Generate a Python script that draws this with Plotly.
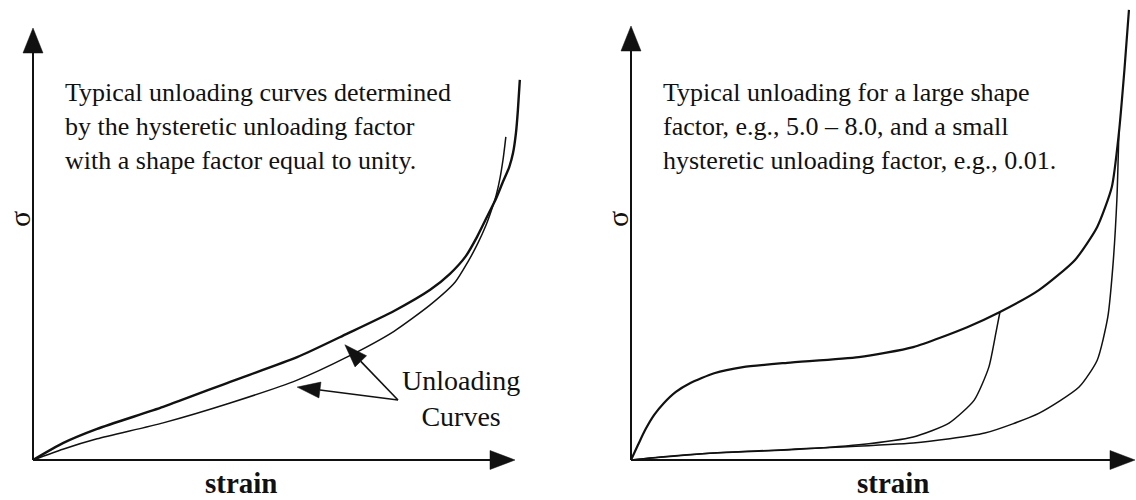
import numpy as np
import plotly.graph_objects as go

# ---------------- data (normalized strain / stress units) ----------------
# Left panel: shape factor = 1
left_load_strain = [0, 0.62, 1.33, 2.70, 4.09, 5.48, 6.51, 7.49, 8.24, 8.65, 8.98, 9.21, 9.42, 9.61,
                    9.75, 9.88, 9.96, 10.02, 10.06, 10.10]
left_load_sigma = [0, 0.39, 0.72, 1.23, 1.81, 2.38, 2.92, 3.45, 3.94, 4.31, 4.72, 5.16, 5.63, 6.06,
                   6.44, 6.78, 7.11, 7.57, 8.10, 8.80]
left_unload_strain = [0, 0.62, 1.33, 2.70, 4.09, 5.48, 6.51, 7.49, 8.24, 8.76, 9.02, 9.23, 9.40, 9.52,
                      9.61, 9.69, 9.75, 9.79, 9.81]
left_unload_sigma = [0, 0.25, 0.49, 0.86, 1.32, 1.85, 2.38, 2.98, 3.59, 4.12, 4.58, 5.02, 5.44, 5.81,
                     6.13, 6.53, 6.94, 7.29, 7.48]

# Right panel: large shape factor, small hysteretic unloading factor
right_load_strain = [0, 0.14, 0.28, 0.46, 0.65, 0.89, 1.17, 1.65, 2.22, 3.10, 4.52, 5.60, 6.67, 7.32,
                     8.10, 8.81, 9.25, 9.54, 9.68, 9.79, 9.88]
right_load_sigma = [0, 0.35, 0.69, 1.04, 1.31, 1.57, 1.77, 2.00, 2.14, 2.24, 2.37, 2.60, 3.06, 3.41,
                    3.92, 4.61, 5.37, 6.29, 7.53, 8.99, 10.37]
right_unload1_strain = [0, 0.58, 1.65, 3.10, 4.52, 5.60, 6.31, 6.81, 7.10, 7.24, 7.32]
right_unload1_sigma = [0, 0.07, 0.16, 0.23, 0.35, 0.53, 0.85, 1.38, 2.14, 2.93, 3.41]
right_unload2_strain = [0, 1.65, 3.81, 5.60, 7.02, 8.10, 8.89, 9.25, 9.46, 9.56, 9.64, 9.68]
right_unload2_sigma = [0, 0.16, 0.28, 0.39, 0.62, 1.08, 1.68, 2.30, 3.29, 4.45, 5.99, 7.53]

left_text = "Typical unloading curves determined<br>by the hysteretic unloading factor<br>with a shape factor equal to unity."
right_text = "Typical unloading for a large shape<br>factor, e.g., 5.0 \u2013 8.0, and a small<br>hysteretic unloading factor, e.g., 0.01."
pointer_label = "Unloading<br>Curves"
x_label = "strain"
y_label = "\u03c3"

# ---------------- layout geometry ----------------
W, H = 1136, 500
AXIS_END = 10.0
SERIF = "Liberation Serif, Times New Roman, serif"
INK = "#111111"

PANELS = {
    "left": dict(ox=33, oy=460, sx=48.2, sy=43.2, xa="x", ya="y", dom=[0.0, 0.5]),
    "right": dict(ox=631, oy=460, sx=50.4, sy=43.4, xa="x2", ya="y2", dom=[0.5, 1.0]),
}


def to_px(p, x, y):
    return p["ox"] + x * p["sx"], p["oy"] - y * p["sy"]


def paper(px, py):
    return px / W, 1 - py / H


def triangle(tip, back, half_w):
    """Filled triangle path (paper coords) from pixel tip / base-centre."""
    tx, ty = tip
    bx, by = back
    dx, dy = tx - bx, ty - by
    n = np.hypot(dx, dy)
    nx, ny = -dy / n, dx / n
    pts = [(tx, ty), (bx + nx * half_w, by + ny * half_w), (bx - nx * half_w, by - ny * half_w)]
    s = ""
    for i, (px, py) in enumerate(pts):
        X, Y = paper(px, py)
        s += ("M" if i == 0 else "L") + f"{X:.5f},{Y:.5f} "
    return dict(type="path", path=s + "Z", xref="paper", yref="paper",
                fillcolor=INK, line=dict(color=INK, width=0.5), layer="above")


def seg(a, b, width):
    X0, Y0 = paper(*a)
    X1, Y1 = paper(*b)
    return dict(type="line", x0=X0, y0=Y0, x1=X1, y1=Y1, xref="paper", yref="paper",
                line=dict(color=INK, width=width), layer="above")


fig = go.Figure()


def add_curve(p, xs, ys, width):
    fig.add_trace(go.Scatter(x=xs, y=ys, mode="lines", xaxis=p["xa"], yaxis=p["ya"],
                             line=dict(color=INK, width=width, shape="spline", smoothing=0.6),
                             hoverinfo="skip", showlegend=False))


L, R = PANELS["left"], PANELS["right"]
add_curve(L, left_load_strain, left_load_sigma, 2.4)
add_curve(L, left_unload_strain, left_unload_sigma, 1.5)
add_curve(R, right_load_strain, right_load_sigma, 2.2)
add_curve(R, right_unload1_strain, right_unload1_sigma, 1.5)
add_curve(R, right_unload2_strain, right_unload2_sigma, 1.5)

shapes = []
annotations = []
HEAD_LEN, HEAD_HALF = 25, 10
for name, p in PANELS.items():
    o = to_px(p, 0, 0)
    xt = to_px(p, AXIS_END, 0)
    yt = to_px(p, 0, AXIS_END)
    shapes.append(seg(o, (xt[0] - HEAD_LEN + 2, xt[1]), 2))
    shapes.append(seg(o, (yt[0], yt[1] + HEAD_LEN - 2), 2))
    shapes.append(triangle(xt, (xt[0] - HEAD_LEN, xt[1]), HEAD_HALF - 0.5))
    shapes.append(triangle(yt, (yt[0], yt[1] + HEAD_LEN), HEAD_HALF))
    # axis labels
    sx, sy = paper(o[0] + 208 if name == "left" else o[0] + 262, 483)
    annotations.append(dict(text=f"<b>{x_label}</b>", x=sx, y=sy, xref="paper", yref="paper",
                            xanchor="center", yanchor="middle", showarrow=False,
                            font=dict(family=SERIF, size=29, color=INK)))
    gx, gy = paper(o[0] - 13, 219)
    annotations.append(dict(text=y_label, x=gx, y=gy, xref="paper", yref="paper",
                            xanchor="center", yanchor="middle", showarrow=False, textangle=-90,
                            font=dict(family=SERIF, size=30, color=INK)))

# descriptive texts
for p, txt in ((L, left_text), (R, right_text)):
    tx, ty = paper(p["ox"] + 30, 76)
    annotations.append(dict(text=txt, x=tx, y=ty, xref="paper", yref="paper",
                            xanchor="left", yanchor="top", align="left", showarrow=False,
                            font=dict(family=SERIF, size=26, color=INK)))

# pointer label and arrows (tips placed on the left-panel curves)
lx, ly = paper(461, 398)
annotations.append(dict(text=pointer_label, x=lx, y=ly, xref="paper", yref="paper",
                        xanchor="center", yanchor="middle", align="center", showarrow=False,
                        font=dict(family=SERIF, size=28, color=INK)))
hub = (398, 400)
for xs, ys, at, off in ((left_load_strain, left_load_sigma, 6.47, 10),
                        (left_unload_strain, left_unload_sigma, 5.48, 7)):
    tpx, tpy = to_px(L, at, float(np.interp(at, xs, ys)))
    tip = (tpx, tpy + off)
    d = np.array(hub) - np.array(tip)
    d = d / np.hypot(*d)
    back = (tip[0] + d[0] * 23, tip[1] + d[1] * 23)
    shapes.append(seg(back, hub, 1.6))
    shapes.append(triangle(tip, back, 8))

axis_common = dict(showgrid=False, zeroline=False, showticklabels=False, showline=False,
                   ticks="", visible=False, fixedrange=True)
lay = dict(width=W, height=H, margin=dict(l=0, r=0, t=0, b=0), autosize=False,
           paper_bgcolor="white", plot_bgcolor="white", showlegend=False,
           shapes=shapes, annotations=annotations)
for p, xk, yk in ((L, "xaxis", "yaxis"), (R, "xaxis2", "yaxis2")):
    xr = [(p["dom"][0] * W - p["ox"]) / p["sx"], (p["dom"][1] * W - p["ox"]) / p["sx"]]
    yr = [(p["oy"] - H) / p["sy"], p["oy"] / p["sy"]]
    lay[xk] = dict(domain=p["dom"], range=xr, anchor=p["ya"], **axis_common)
    lay[yk] = dict(domain=[0, 1], range=yr, anchor=p["xa"], **axis_common)

fig.update_layout(**lay)
fig.write_html("out.html", config={"displayModeBar": False},
               post_script="document.body.style.margin='0px';document.body.style.overflow='hidden';")
